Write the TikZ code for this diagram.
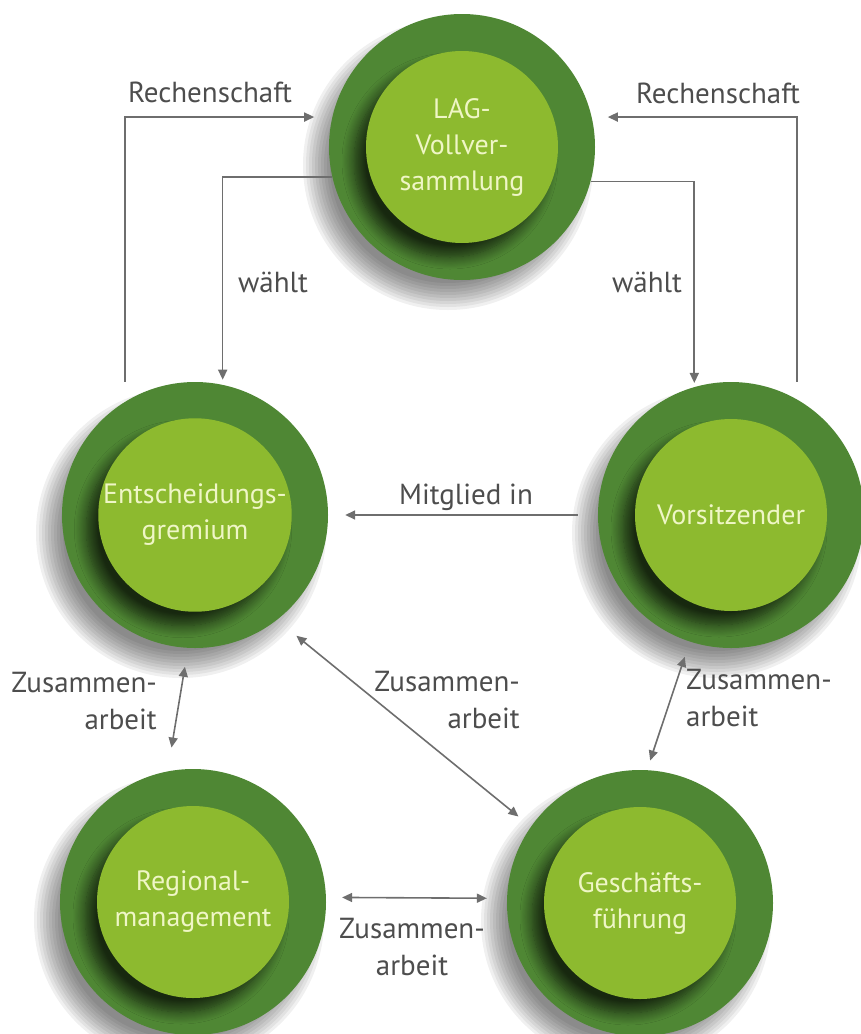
\documentclass[tikz,border=0pt]{standalone}
\usepackage{fontspec}
\setmainfont{PT Sans}
\usepackage{tikz}
\usetikzlibrary{arrows.meta, positioning, shadows.blur}
\definecolor{ringgreen}{RGB}{79,135,52}
\definecolor{coregreen}{RGB}{141,186,47}
\definecolor{coretext}{RGB}{239,246,198}
\definecolor{lblgray}{RGB}{77,77,77}
\definecolor{arrgray}{RGB}{110,110,110}
\tikzset{
  ring/.style={circle, fill=ringgreen, minimum size=266pt, inner sep=0pt},
  core/.style={circle, fill=coregreen, minimum size=192pt, inner sep=0pt,
    align=center, text=coretext, font=\fontsize{28}{36}\selectfont,
    blur shadow={shadow xshift=-12pt, shadow yshift=-14pt,
      shadow blur radius=12pt, shadow blur steps=12, shadow opacity=70}},
  lbl/.style={text=lblgray, font=\fontsize{29}{37}\selectfont, inner sep=0pt},
  arrow/.style={-{Triangle[length=10pt,width=9pt]}, line width=1.6pt, color=arrgray},
  dblarrow/.style={{Triangle[length=10pt,width=9pt]}-{Triangle[length=10pt,width=9pt]},
    line width=1.6pt, color=arrgray}
}

\begin{document}
\begin{tikzpicture}[x=1pt, y=-1pt]
  \useasboundingbox (0,0) rectangle (860,1034);

  % Soft shadows under the circles
  \foreach \cx/\cy in {462/147, 195/515, 731/515, 193/902, 640/903}
    \foreach \rr in {118,121,...,145}
      \fill[black, opacity=0.06] (\cx-14,\cy+18) circle (\rr pt);

  % Circles
  \node[ring] (lag) at (462,147) {};
  \node[core] (lagc) at (lag) {LAG-\\Vollver-\\sammlung};
  \node[ring] (ent) at (195,515) {};
  \node[core] (entc) at (ent) {Entscheidungs-\\gremium};
  \node[ring] (vor) at (731,515) {};
  \node[core] (vorc) at (vor) {Vorsitzender};
  \node[ring] (reg) at (193,902) {};
  \node[core] (regc) at (reg) {Regional-\\management};
  \node[ring] (gf) at (640,903) {};
  \node[core] (gfc) at (gf) {Geschäfts-\\führung};

  % Labels
  \node[lbl] (rechl) at (210,92) {Rechenschaft};
  \node[lbl] (rechr) at (718,93) {Rechenschaft};
  \node[lbl] (waehltl) at (273,282) {wählt};
  \node[lbl] (waehltr) at (647,282) {wählt};
  \node[lbl] (mitglied) at (466,497) {Mitglied in};
  \node[lbl, anchor=east, align=right] (zusl) at (157,701) {Zusammen-\\arbeit};
  \node[lbl, anchor=east, align=right] (zusm) at (520,700) {Zusammen-\\arbeit};
  \node[lbl, anchor=west, align=left] (zusr) at (686,698) {Zusammen-\\arbeit};
  \node[lbl, align=center] (zusb) at (412,947) {Zusammen-\\arbeit};

  % Connectors
  \draw[arrow, shorten >=18pt] ([xshift=-70pt]ent.north) |- (lag.167);
  \draw[arrow, shorten >=5pt] (lag.193) -| (ent.78);
  \draw[arrow, shorten >=4pt] (lag.-15) -| (vor.106);
  \draw[arrow, shorten >=16pt] ([xshift=66pt]vor.north) |- (lag.13);
  \draw[arrow, shorten <=20pt, shorten >=17pt] (vor.west) -- (ent.east);
  \draw[dblarrow, shorten <=19pt, shorten >=24pt] (ent.267) -- (reg.101);
  \draw[dblarrow, shorten <=25pt, shorten >=16pt] (ent.-52) -- (gf.145);
  \draw[dblarrow, shorten <=16pt, shorten >=10pt] (vor.252) -- (gf.87);
  \draw[dblarrow, shorten <=16pt, shorten >=20pt] (reg.2) -- (gf.178);
\end{tikzpicture}
\end{document}
